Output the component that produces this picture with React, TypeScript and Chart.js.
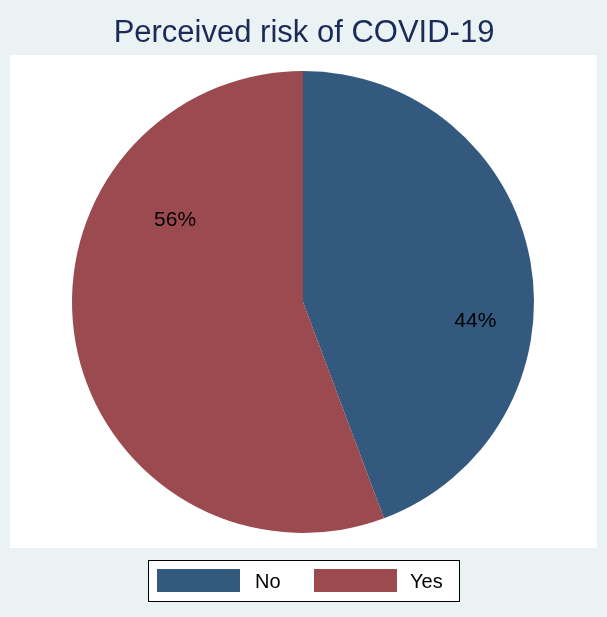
import React, { useEffect, useRef } from "react";
import { Chart, registerables } from "chart.js";

Chart.register(...registerables);

const TITLE = "Perceived risk of COVID-19";
const categories = ["No", "Yes"];
const percents = [44.3, 55.7];
const sliceColors = ["#335A7E", "#9B4A4F"];
// label placement: angle (deg clockwise from 12 o'clock) and fraction of radius
const labelAngles = [96, 303];
const labelRadii = [0.75, 0.66];

const FONT = "'Liberation Sans', Arial, sans-serif";

const decorPlugin = {
  id: "decor",
  beforeDraw(chart: any) {
    const ctx = chart.ctx;
    ctx.save();
    ctx.fillStyle = "#EAF2F3";
    ctx.fillRect(0, 0, chart.width, chart.height);
    ctx.fillStyle = "#FFFFFF";
    ctx.fillRect(10, 55, 587, 493);
    // title
    ctx.fillStyle = "#1A2B58";
    ctx.font = `31px ${FONT}`;
    ctx.textAlign = "center";
    ctx.textBaseline = "middle";
    ctx.fillText(TITLE, 304, 33);
    // legend box
    ctx.fillStyle = "#FFFFFF";
    ctx.fillRect(148.5, 560.5, 311, 41);
    ctx.strokeStyle = "#000000";
    ctx.lineWidth = 1;
    ctx.strokeRect(148.5, 560.5, 311, 41);
    const ds = chart.data.datasets[0];
    const swX = [157, 314];
    const txX = [255, 410];
    ctx.font = `20px ${FONT}`;
    ctx.textAlign = "left";
    chart.data.labels.forEach((lab: string, i: number) => {
      ctx.fillStyle = ds.backgroundColor[i];
      ctx.fillRect(swX[i], 569, 83, 23);
      ctx.fillStyle = "#000000";
      ctx.fillText(lab, txX[i], 582);
    });
    ctx.restore();
  },
  afterDatasetsDraw(chart: any) {
    const ctx = chart.ctx;
    const meta = chart.getDatasetMeta(0);
    const ds = chart.data.datasets[0];
    ctx.save();
    ctx.fillStyle = "#000000";
    ctx.font = `21px ${FONT}`;
    ctx.textAlign = "center";
    ctx.textBaseline = "middle";
    meta.data.forEach((arc: any, i: number) => {
      const { x, y, outerRadius } = arc.getProps(["x", "y", "outerRadius"], true);
      const a = (labelAngles[i] * Math.PI) / 180;
      const r = outerRadius * labelRadii[i];
      ctx.fillText(`${Math.round(ds.data[i])}%`, x + r * Math.sin(a), y - r * Math.cos(a) + 1);
    });
    ctx.restore();
  },
};

export default function App() {
  const ref = useRef<HTMLCanvasElement>(null);
  useEffect(() => {
    document.body.style.margin = "0";
    const chart = new Chart(ref.current!, {
      type: "pie",
      data: {
        labels: categories,
        datasets: [
          {
            data: percents,
            backgroundColor: sliceColors,
            borderWidth: 0,
          },
        ],
      },
      options: {
        animation: false,
        responsive: false,
        maintainAspectRatio: false,
        layout: { padding: { left: 72, right: 73, top: 71, bottom: 84 } },
        plugins: {
          legend: { display: false },
          title: { display: false },
          tooltip: { enabled: false },
        },
      },
      plugins: [decorPlugin],
    });
    return () => chart.destroy();
  }, []);
  return (
    <div style={{ width: 607, height: 617 }}>
      <canvas ref={ref} width={607} height={617} style={{ display: "block" }} />
    </div>
  );
}
